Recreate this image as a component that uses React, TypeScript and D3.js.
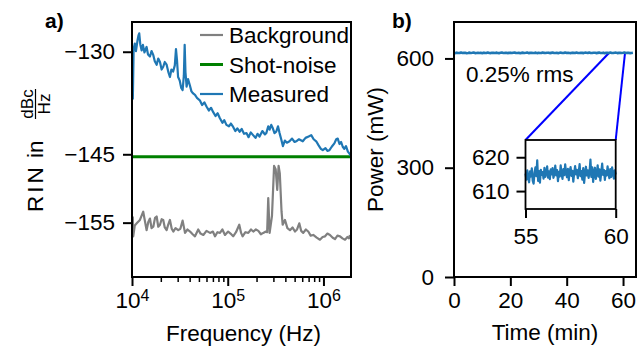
import { useEffect, useRef } from 'react';
import * as d3 from 'd3';

// panel a) relative intensity noise, [frequency Hz, dBc/Hz]
const measured: [number, number][] = [
  [1.02e4, -137.0], [1.04e4, -129.6], [1.07e4, -128.8], [1.1e4, -129.9], [1.14e4, -128.4],
  [1.17e4, -127.6], [1.19e4, -127.3], [1.22e4, -128.9], [1.26e4, -129.8], [1.3e4, -129.0],
  [1.35e4, -130.1], [1.42e4, -129.3], [1.47e4, -130.4], [1.54e4, -130.7], [1.6e4, -129.9],
  [1.67e4, -130.5], [1.73e4, -131.4], [1.81e4, -131.9], [1.88e4, -131.0], [1.96e4, -131.5],
  [2.04e4, -132.6], [2.12e4, -132.2], [2.2e4, -131.5], [2.3e4, -131.9], [2.4e4, -133.0],
  [2.49e4, -133.7], [2.58e4, -132.6], [2.69e4, -132.9], [2.8e4, -132.0], [2.88e4, -129.6],
  [2.95e4, -131.2], [3.03e4, -133.7], [3.15e4, -134.2], [3.27e4, -135.3], [3.38e4, -135.6],
  [3.48e4, -133.5], [3.55e4, -129.0], [3.62e4, -133.0], [3.72e4, -135.1], [3.85e4, -134.0],
  [4.02e4, -134.9], [4.18e4, -135.8], [4.35e4, -136.1], [4.55e4, -136.3], [4.8e4, -136.8],
  [5.11e4, -137.1], [5.4e4, -137.8], [5.7e4, -137.4], [6.0e4, -138.0], [6.35e4, -138.6],
  [6.7e4, -138.2], [7.03e4, -138.8], [7.45e4, -139.4], [7.85e4, -139.0], [8.26e4, -139.7],
  [8.8e4, -140.4], [9.2e4, -140.0], [9.69e4, -140.7], [1.03e5, -140.9], [1.08e5, -140.5],
  [1.14e5, -141.0], [1.2e5, -141.6], [1.26e5, -141.2], [1.33e5, -141.7], [1.4e5, -141.3],
  [1.48e5, -142.0], [1.57e5, -141.9], [1.65e5, -142.5], [1.74e5, -141.8], [1.84e5, -142.2],
  [1.95e5, -142.6], [2.05e5, -142.0], [2.15e5, -142.4], [2.3e5, -141.6], [2.45e5, -142.1],
  [2.53e5, -141.9], [2.65e5, -140.9], [2.74e5, -141.4], [2.85e5, -140.7], [2.96e5, -141.2],
  [3.08e5, -141.9], [3.21e5, -141.7], [3.35e5, -140.9], [3.48e5, -141.9], [3.62e5, -142.8],
  [3.77e5, -143.8], [3.95e5, -143.0], [4.15e5, -143.3], [4.42e5, -143.1], [4.7e5, -142.7],
  [5.0e5, -143.2], [5.2e5, -143.1], [5.55e5, -142.8], [6.08e5, -143.1], [6.5e5, -142.6],
  [7.0e5, -142.4], [7.45e5, -142.2], [7.9e5, -142.8], [8.4e5, -143.1], [8.9e5, -143.7],
  [9.4e5, -144.2], [9.84e5, -144.4], [1.05e6, -144.1], [1.1e6, -144.5], [1.155e6, -144.4],
  [1.22e6, -143.9], [1.3e6, -143.4], [1.36e6, -142.8], [1.41e6, -142.7], [1.47e6, -143.5],
  [1.53e6, -143.2], [1.59e6, -143.9], [1.65e6, -144.2], [1.72e6, -143.8], [1.8e6, -144.6],
  [1.87e6, -144.9], [1.92e6, -145.2],
];

const background: [number, number][] = [
  [1.02e4, -154.1], [1.03e4, -157.0], [1.07e4, -155.4], [1.12e4, -155.1], [1.21e4, -154.6],
  [1.31e4, -153.4], [1.42e4, -156.1], [1.48e4, -154.9], [1.54e4, -154.4], [1.6e4, -155.8],
  [1.67e4, -155.6], [1.74e4, -154.3], [1.81e4, -154.1], [1.88e4, -155.6], [1.96e4, -155.3],
  [2.04e4, -154.5], [2.12e4, -154.6], [2.2e4, -155.7], [2.3e4, -156.1], [2.4e4, -155.2],
  [2.49e4, -154.6], [2.6e4, -155.9], [2.7e4, -156.3], [2.85e4, -155.8], [3.04e4, -156.1],
  [3.2e4, -155.9], [3.38e4, -154.7], [3.58e4, -156.5], [3.8e4, -156.0], [4.04e4, -156.3],
  [4.3e4, -156.7], [4.55e4, -157.0], [4.92e4, -156.0], [5.2e4, -156.6], [5.56e4, -156.8],
  [6.0e4, -156.2], [6.53e4, -156.5], [7.0e4, -156.3], [7.36e4, -157.0], [7.8e4, -156.4],
  [8.3e4, -156.5], [8.8e4, -156.0], [9.36e4, -156.8], [1.01e5, -156.3], [1.07e5, -156.6],
  [1.14e5, -157.0], [1.22e5, -156.4], [1.32e5, -155.3], [1.38e5, -156.5], [1.43e5, -157.0],
  [1.53e5, -156.4], [1.64e5, -156.5], [1.75e5, -156.0], [1.85e5, -156.3], [1.97e5, -156.0],
  [2.09e5, -156.2], [2.22e5, -156.7], [2.35e5, -156.5], [2.5e5, -156.3], [2.58e5, -156.4],
  [2.65e5, -151.4], [2.74e5, -156.5], [2.9e5, -154.0], [3.05e5, -146.7], [3.17e5, -147.2],
  [3.29e5, -150.2], [3.4e5, -146.7], [3.5e5, -147.8], [3.65e5, -153.4], [3.75e5, -155.3],
  [3.96e5, -154.6], [4.2e5, -155.8], [4.47e5, -156.1], [4.75e5, -155.7], [5.04e5, -156.3],
  [5.3e5, -156.0], [5.59e5, -155.1], [5.85e5, -156.2], [6.15e5, -156.5], [6.55e5, -156.0],
  [6.94e5, -156.3], [7.35e5, -156.9], [7.83e5, -156.8], [8.5e5, -157.2], [9.19e5, -157.5],
  [9.8e5, -157.1], [1.04e6, -157.0], [1.1e6, -156.6], [1.17e6, -156.8], [1.25e6, -157.2],
  [1.32e6, -157.4], [1.4e6, -156.9], [1.49e6, -157.0], [1.58e6, -157.3], [1.68e6, -157.5],
  [1.78e6, -157.1], [1.85e6, -157.3], [1.89e6, -156.8],
];

const shotNoise = -145.35;
const legendLabels = ['Background', 'Shot-noise', 'Measured'];
const rinTicks = [-130, -145, -155];
const freqTicks = [1e4, 1e5, 1e6];

// panel b) laser output power, mW
const powerStep = 0.5; // min between samples, starting at 0
const power = [
  615.1, 614.6, 615.8, 614.9, 615.3, 616.0, 614.7, 615.2, 615.6, 614.4,
  615.0, 615.9, 614.8, 615.4, 616.2, 614.6, 615.1, 615.7, 614.9, 615.5,
  614.5, 615.8, 615.2, 614.7, 616.1, 615.0, 614.6, 615.6, 615.3, 614.8,
  615.9, 615.1, 614.5, 615.4, 616.0, 614.9, 615.2, 615.7, 614.6, 615.3,
  615.8, 614.7, 615.5, 616.3, 614.8, 615.0, 615.6, 614.4, 615.2, 615.9,
  614.9, 615.4, 616.1, 614.6, 615.3, 615.7, 614.8, 615.1, 615.9, 614.5,
  615.6, 615.0, 614.7, 616.2, 615.2, 614.9, 615.5, 615.8, 614.6, 615.3,
  616.0, 614.8, 615.1, 615.7, 614.5, 615.4, 615.9, 614.9, 615.2, 616.1,
  614.7, 615.5, 615.0, 614.6, 615.8, 615.3, 614.8, 616.0, 615.1, 614.9,
  615.6, 615.2, 614.5, 615.9, 615.4, 614.7, 616.2, 615.0, 614.8, 615.5,
  615.7, 614.6, 615.3, 616.0, 614.9, 615.1, 615.8, 614.4, 615.6, 615.2,
  614.8, 616.1, 615.0, 614.7, 615.5, 615.9, 614.6, 615.3, 615.7, 614.9,
  615.4, 616.0, 614.8, 615.2, 615.6, 614.5, 615.1, 615.8,
];

const insetStart = 55;
const insetStep = 0.05;
const insetPower = [
  615.2, 613.4, 616.1, 614.0, 612.6, 615.8, 614.3, 616.7, 613.1, 612.2,
  615.5, 617.0, 614.4, 619.1, 613.0, 615.9, 612.5, 616.3, 614.8, 615.6,
  613.7, 616.9, 614.2, 615.4, 617.3, 614.0, 615.8, 613.5, 616.4, 614.9,
  616.8, 613.9, 615.1, 617.5, 614.6, 616.2, 612.9, 615.7, 614.3, 617.6,
  615.0, 613.6, 616.5, 614.7, 617.9, 615.3, 614.1, 616.6, 613.2, 615.9,
  617.1, 614.5, 616.0, 612.8, 615.4, 617.4, 614.9, 616.3, 613.8, 615.6,
  618.0, 614.4, 615.9, 613.4, 616.8, 612.4, 615.2, 617.2, 614.6, 616.1,
  613.9, 615.7, 619.3, 614.2, 617.0, 612.7, 615.8, 616.9, 613.6, 615.0,
  617.6, 614.3, 616.4, 613.1, 615.5, 618.1, 614.8, 616.2, 613.3, 615.9,
  614.6, 617.3, 615.1, 613.8, 616.5, 614.2, 617.0, 615.4, 613.7, 616.1, 614.9,
];

const powerTicks = [0, 300, 600];
const timeTicks = [0, 20, 40, 60];
const insetPowerTicks = [610, 620];
const insetTimeTicks = [55, 60];
const zoomTimes = [55, 60.7];
const zoomLevel = 615;
const rmsLabel = '0.25% rms';

const FONT = '"Liberation Sans", Arial, Helvetica, sans-serif';
const FS = 22.5;

function styleAxis(g: d3.Selection<SVGGElement, unknown, null, undefined>) {
  g.attr('font-size', FS).attr('font-family', FONT);
  g.select('.domain').remove();
  g.selectAll('.tick line').attr('stroke', '#000').attr('stroke-width', 2);
  g.selectAll('.tick text').attr('fill', '#000');
}

export default function App() {
  const svgRef = useRef<SVGSVGElement>(null);

  useEffect(() => {
    if (!svgRef.current) return;
    const svg = d3.select(svgRef.current);
    svg.selectAll('*').remove();
    svg.attr('font-family', FONT);

    // ---------- panel a ----------
    const a = { l: 132, r: 351, t: 22, b: 277 };
    const x = d3.scaleLog().domain([1e4, 1.94e6]).range([a.l, a.r]);
    const y = d3.scaleLinear().domain([-162.95, -125.65]).range([a.b, a.t]);

    const line = d3
      .line<[number, number]>()
      .x((d) => x(d[0]))
      .y((d) => y(d[1]));

    svg.append('path')
      .datum(background)
      .attr('d', line)
      .attr('fill', 'none')
      .attr('stroke', '#808080')
      .attr('stroke-width', 2.2)
      .attr('stroke-linejoin', 'round');

    svg.append('line')
      .attr('x1', a.l).attr('x2', a.r)
      .attr('y1', y(shotNoise)).attr('y2', y(shotNoise))
      .attr('stroke', '#008000')
      .attr('stroke-width', 3);

    svg.append('path')
      .datum(measured)
      .attr('d', line)
      .attr('fill', 'none')
      .attr('stroke', '#1f77b4')
      .attr('stroke-width', 2.2)
      .attr('stroke-linejoin', 'round');

    const yAxisA = svg.append('g')
      .attr('transform', `translate(${a.l},0)`)
      .call(d3.axisLeft(y).tickValues(rinTicks).tickSize(9).tickPadding(8));
    styleAxis(yAxisA);

    const minorFreq = [1e4, 1e5, 1e6].flatMap((p) => d3.range(2, 10).map((m) => m * p)).filter((f) => f < 1.94e6);
    const xMinorA = svg.append('g')
      .attr('transform', `translate(0,${a.b})`)
      .call(d3.axisBottom(x).tickValues(minorFreq).tickSize(5).tickFormat(() => ''));
    styleAxis(xMinorA);
    xMinorA.selectAll('.tick line').attr('stroke-width', 1.5);

    const xAxisA = svg.append('g')
      .attr('transform', `translate(0,${a.b})`)
      .call(d3.axisBottom(x).tickValues(freqTicks).tickSize(9).tickPadding(6).tickFormat(() => ''));
    styleAxis(xAxisA);
    xAxisA.selectAll<SVGTextElement, number>('.tick text').each(function (d) {
      const t = d3.select(this);
      t.append('tspan').text('10');
      t.append('tspan').attr('dy', '-0.42em').attr('font-size', 16).text(String(Math.round(Math.log10(d))));
    });

    svg.append('rect')
      .attr('x', a.l).attr('y', a.t)
      .attr('width', a.r - a.l).attr('height', a.b - a.t)
      .attr('fill', 'none').attr('stroke', '#000').attr('stroke-width', 2);

    // legend
    const legendColors = ['#808080', '#008000', '#1f77b4'];
    legendLabels.forEach((label, i) => {
      const ly = 35 + i * 29.5;
      svg.append('line')
        .attr('x1', 200).attr('x2', 223).attr('y1', ly).attr('y2', ly)
        .attr('stroke', legendColors[i]).attr('stroke-width', i === 1 ? 3 : 2.2);
      svg.append('text')
        .attr('x', 229).attr('y', ly + 8.2)
        .attr('font-size', FS)
        .text(label);
    });

    svg.append('text')
      .attr('x', (a.l + a.r) / 2 + 2).attr('y', 341)
      .attr('text-anchor', 'middle').attr('font-size', FS)
      .text('Frequency (Hz)');

    // y label: RIN in dBc/Hz (rotated)
    const yl = svg.append('g').attr('transform', 'rotate(-90)');
    const rin = yl.append('text').attr('x', -212).attr('y', 43).attr('font-size', FS);
    rin.append('tspan').attr('letter-spacing', 3).text('RIN');
    rin.append('tspan').text(' in');
    yl.append('text').attr('x', -104).attr('y', 32.5).attr('text-anchor', 'middle').attr('font-size', 17).text('dBc');
    yl.append('text').attr('x', -104).attr('y', 49.5).attr('text-anchor', 'middle').attr('font-size', 17).text('Hz');
    yl.append('line')
      .attr('x1', -119).attr('x2', -89).attr('y1', 35.5).attr('y2', 35.5)
      .attr('stroke', '#000').attr('stroke-width', 1.2);

    svg.append('text').attr('x', 45).attr('y', 28).attr('font-size', 21).attr('font-weight', 'bold').text('a)');

    // ---------- panel b ----------
    const b = { l: 454, r: 636, t: 22, b: 277 };
    const x2 = d3.scaleLinear().domain([0, 64.6]).range([b.l, b.r]);
    const y2 = d3.scaleLinear().domain([0, 700]).range([b.b, b.t]);

    const ins = { l: 525.5, r: 615.7, t: 140, b: 209 };
    const xi = d3.scaleLinear().domain([55, 60]).range([ins.l, ins.r]);
    const yi = d3.scaleLinear().domain([604.7, 625.1]).range([ins.b, ins.t]);

    // zoom connectors
    svg.append('line')
      .attr('x1', x2(zoomTimes[0])).attr('y1', y2(zoomLevel))
      .attr('x2', ins.l).attr('y2', ins.t)
      .attr('stroke', '#0000ff').attr('stroke-width', 2);
    svg.append('line')
      .attr('x1', x2(zoomTimes[1])).attr('y1', y2(zoomLevel))
      .attr('x2', ins.r).attr('y2', ins.t)
      .attr('stroke', '#0000ff').attr('stroke-width', 2);

    const powerLine = d3
      .line<number>()
      .x((_, i) => x2(i * powerStep))
      .y((d) => y2(d));
    svg.append('path')
      .datum(power)
      .attr('d', powerLine)
      .attr('fill', 'none')
      .attr('stroke', '#1f77b4')
      .attr('stroke-width', 2.6)
      .attr('stroke-linejoin', 'round');

    svg.append('text').attr('x', 466).attr('y', 82).attr('font-size', FS).text(rmsLabel);

    const yAxisB = svg.append('g')
      .attr('transform', `translate(${b.l},0)`)
      .call(d3.axisLeft(y2).tickValues(powerTicks).tickSize(9).tickPadding(11));
    styleAxis(yAxisB);

    const xAxisB = svg.append('g')
      .attr('transform', `translate(0,${b.b})`)
      .call(d3.axisBottom(x2).tickValues(timeTicks).tickSize(9).tickPadding(6));
    styleAxis(xAxisB);

    svg.append('rect')
      .attr('x', b.l).attr('y', b.t)
      .attr('width', b.r - b.l).attr('height', b.b - b.t)
      .attr('fill', 'none').attr('stroke', '#000').attr('stroke-width', 2);

    svg.append('text')
      .attr('x', (b.l + b.r) / 2).attr('y', 340)
      .attr('text-anchor', 'middle').attr('font-size', FS)
      .text('Time (min)');

    svg.append('text')
      .attr('transform', 'rotate(-90)')
      .attr('x', -149.5).attr('y', 383)
      .attr('text-anchor', 'middle').attr('font-size', FS)
      .text('Power (mW)');

    svg.append('text').attr('x', 392).attr('y', 28).attr('font-size', 21).attr('font-weight', 'bold').text('b)');

    // inset
    svg.append('rect')
      .attr('x', ins.l).attr('y', ins.t)
      .attr('width', ins.r - ins.l).attr('height', ins.b - ins.t)
      .attr('fill', '#fff');

    const insetLine = d3
      .line<number>()
      .x((_, i) => xi(insetStart + i * insetStep))
      .y((d) => yi(d));
    svg.append('path')
      .datum(insetPower)
      .attr('d', insetLine)
      .attr('fill', 'none')
      .attr('stroke', '#1f77b4')
      .attr('stroke-width', 2.2)
      .attr('stroke-linejoin', 'round');

    const yAxisI = svg.append('g')
      .attr('transform', `translate(${ins.l},0)`)
      .call(d3.axisLeft(yi).tickValues(insetPowerTicks).tickSize(9).tickPadding(7).tickFormat(d3.format('d')));
    styleAxis(yAxisI);

    const xAxisI = svg.append('g')
      .attr('transform', `translate(0,${ins.b})`)
      .call(d3.axisBottom(xi).tickValues(insetTimeTicks).tickSize(9).tickPadding(10).tickFormat(d3.format('d')));
    styleAxis(xAxisI);

    svg.append('rect')
      .attr('x', ins.l).attr('y', ins.t)
      .attr('width', ins.r - ins.l).attr('height', ins.b - ins.t)
      .attr('fill', 'none').attr('stroke', '#000').attr('stroke-width', 1.8);
  }, []);

  return (
    <svg
      ref={svgRef}
      width={641}
      height={348}
      style={{ position: 'absolute', left: 0, top: 0, background: '#fff' }}
    />
  );
}
